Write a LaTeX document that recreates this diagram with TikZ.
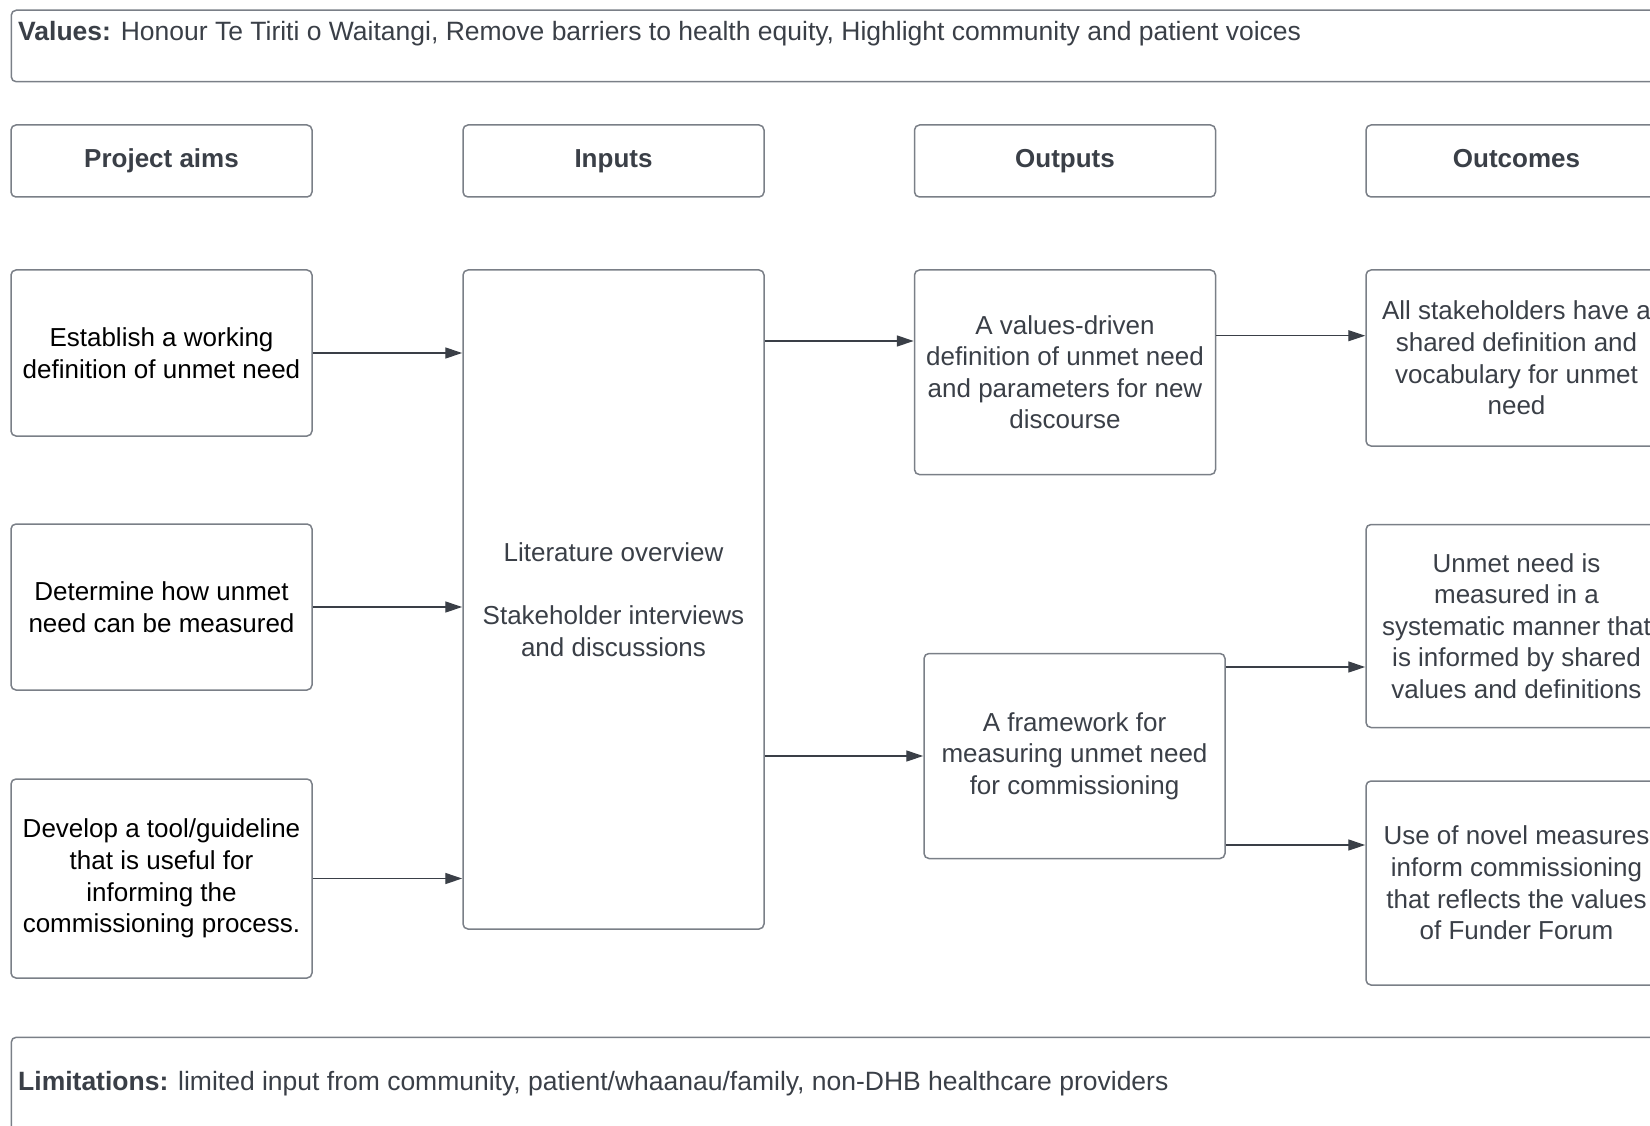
\documentclass[tikz,border=0pt]{standalone}
\usepackage{fontspec}
\setmainfont{Liberation Sans}
\usetikzlibrary{arrows.meta}
\definecolor{txt}{HTML}{3A3F47}
\definecolor{bord}{HTML}{7A7F87}
\definecolor{arr}{HTML}{3A3F47}
\begin{document}
\begin{tikzpicture}[x=1pt,y=-1pt,
  box/.style={draw=bord, line width=1.5pt, rounded corners=5pt, inner sep=0pt,
    align=center, text=txt, minimum width=301pt, font=\fontsize{26}{31.6}\selectfont},
  aimbox/.style={box, text=black},
  headbox/.style={box, minimum height=72pt, text height=18.6pt, text depth=5.4pt, font=\fontsize{26}{31.6}\selectfont\bfseries},
  lbl/.style={inner sep=0pt, text=txt, font=\fontsize{26.5}{31.6}\selectfont},
  conn/.style={draw=arr, line width=1.3pt, -{Triangle[length=17pt,width=11pt]}}]
\useasboundingbox (0,0) rectangle (1650,1126);
\clip (0,0) rectangle (1650,1126);
% values / limitations
\node[draw=bord, line width=1.5pt, rounded corners=5pt, anchor=north west, minimum width=1720pt, minimum height=71.5pt, inner sep=0pt] (values) at (10.5,9.5) {};
\node[lbl, anchor=base west] (valtxt) at (18,41) {\textbf{Values:} Honour Te Tiriti o Waitangi, Remove barriers to health equity, Highlight community and patient voices};
\node[draw=bord, line width=1.5pt, rounded corners=5pt, anchor=north west, minimum width=1720pt, minimum height=150pt, inner sep=0pt] (limits) at (10.5,1036.5) {};
\node[lbl, anchor=base west] (limtxt) at (18,1090.5) {\textbf{Limitations:} limited input from community, patient/whaanau/family, non-DHB healthcare providers};
% headers
\node[headbox] (h1) at (161.5,161) {Project aims};
\node[headbox] (h2) at (613.5,161) {Inputs};
\node[headbox] (h3) at (1065,161) {Outputs};
\node[headbox] (h4) at (1516.5,161) {Outcomes};
% aims
\node[aimbox, minimum height=166pt] (a1) at (161.5,353) {Establish a working\\definition of unmet need};
\node[aimbox, minimum height=166pt] (a2) at (161.5,607) {Determine how unmet\\need can be measured};
\node[aimbox, minimum height=199pt] (a3) at (161.5,878.5) {Develop a tool/guideline\\that is useful for\\informing the\\commissioning process.};
% inputs
\node[box, minimum height=659pt] (in) at (613.5,599.5) {Literature overview\\[31.6pt]Stakeholder interviews\\and discussions};
% outputs
\node[box, minimum height=204.6pt] (o1) at (1065,372.3) {A values-driven\\definition of unmet need\\and parameters for new\\discourse};
\node[box, minimum height=205pt] (o2) at (1074.5,756) {A framework for\\measuring unmet need\\for commissioning};
% outcomes
\node[box, minimum height=176pt] (c1) at (1516.5,358) {All stakeholders have a\\shared definition and\\vocabulary for unmet\\need};
\node[box, minimum height=203pt] (c2) at (1516.5,626) {Unmet need is\\measured in a\\systematic manner that\\is informed by shared\\values and definitions};
\node[box, minimum height=204pt] (c3) at (1516.5,883) {Use of novel measures\\inform commissioning\\that reflects the values\\of Funder Forum};
% connectors
\draw[conn] (a1.east) -- (a1.east -| in.west);
\draw[conn] (a2.east) -- (a2.east -| in.west);
\draw[conn] (a3.east) -- (a3.east -| in.west);
\draw[conn] (in.east |- 0,341) -- (o1.west |- 0,341);
\draw[conn] (in.east |- o2.west) -- (o2.west);
\draw[conn] (o1.east |- 0,335.7) -- (c1.west |- 0,335.7);
\draw[conn] (o2.east |- 0,667) -- (c2.west |- 0,667);
\draw[conn] (o2.east |- 0,845) -- (c3.west |- 0,845);
\end{tikzpicture}
\end{document}
